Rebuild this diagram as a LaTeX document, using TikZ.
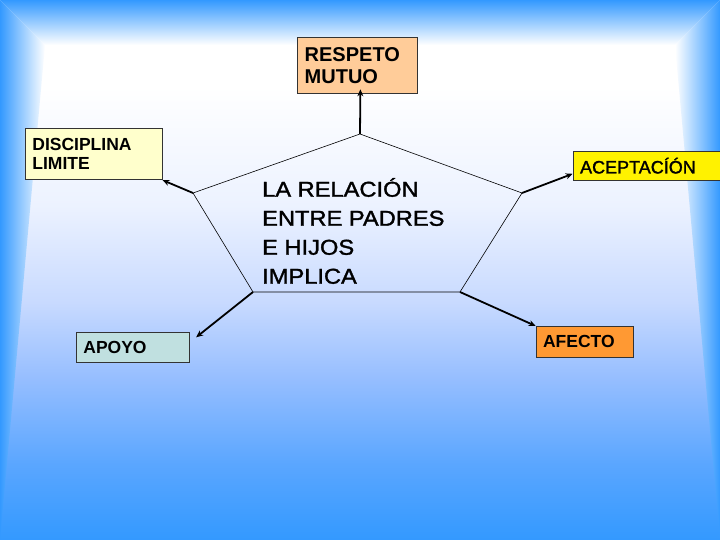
\documentclass[tikz,border=0pt]{standalone}
\usepackage{fontspec}
\setmainfont{Liberation Sans}
\newfontfamily\anchafont[FakeStretch=1.1,FakeBold=1.5]{Liberation Sans}
\newfontfamily\gruesafont[FakeBold=1.5]{Liberation Sans}
\usetikzlibrary{arrows.meta,calc}

\definecolor{azulborde}{RGB}{51,153,255}
\definecolor{azulA}{RGB}{90,166,255}
\definecolor{azulB}{RGB}{150,190,255}
\definecolor{azulC}{RGB}{200,218,255}
\definecolor{azulD}{RGB}{236,242,255}
\definecolor{naranjaclaro}{RGB}{255,204,153}
\definecolor{amarilloclaro}{RGB}{255,255,204}
\definecolor{verdeagua}{RGB}{192,224,224}
\definecolor{naranja}{RGB}{255,153,51}

\pgfdeclareverticalshading{fondo}{100bp}{color(0bp)=(azulborde); color(25bp)=(azulborde); color(32bp)=(azulA); color(40bp)=(azulB); color(47bp)=(azulC); color(56bp)=(azulD); color(67bp)=(white); color(100bp)=(white)}

\begin{document}
\begin{tikzpicture}[x=1pt, y=-1pt, >=Stealth,
    caja/.style={draw=black!80, line width=0.8pt, anchor=north west, align=left,
        inner xsep=7pt, inner ysep=0pt, font=\bfseries\fontsize{17.5}{19}\selectfont},
    flecha/.style={line width=1.8pt, -{Stealth[length=7pt,width=6pt]}}]

    \useasboundingbox (0,0) rectangle (720,540);

    % --- fondo y marco ---
    \shade[shading=fondo] (0,0) rectangle (720,540);
    \shade[top color=azulborde, bottom color=white] (0,0) -- (720,0) -- (675,45) -- (45,45) -- cycle;
    \shade[left color=azulborde, right color=white] (0,0) -- (45,45) -- (0,540) -- cycle;
    \shade[left color=white, right color=azulborde] (720,0) -- (675,45) -- (720,540) -- cycle;

    % --- cajas ---
    \node[caja, fill=naranjaclaro, text width=105.4pt, minimum height=56pt,
        font=\bfseries\fontsize{20}{22}\selectfont] (respeto) at (297.3,37.5) {RESPETO\\MUTUO};
    \node[caja, fill=amarilloclaro, text width=122.7pt, minimum height=51pt] (disciplina) at (25,128.3) {DISCIPLINA\\LIMITE};
    \node[caja, fill=yellow, text width=138pt, minimum height=29.3pt,
        font=\gruesafont\fontsize{18}{20}\selectfont] (aceptacion) at (572.7,150.7) {ACEPTACÍÓN};
    \node[caja, fill=verdeagua, text width=99.3pt, minimum height=30pt] (apoyo) at (76,332.3) {APOYO};
    \node[caja, fill=naranja, text width=83pt, minimum height=30.7pt] (afecto) at (535.7,326) {AFECTO};

    % --- pentagono central ---
    \coordinate (vsup)    at (360,134);
    \coordinate (vizq)    at (193,193);
    \coordinate (vder)    at (522,193);
    \coordinate (vinfizq) at (253,292);
    \coordinate (vinfder) at (460,292);
    \draw[line width=0.6pt] (vsup) -- (vder) -- (vinfder) -- (vinfizq) -- (vizq) -- cycle;

    \node[font=\anchafont\fontsize{21.5}{29}\selectfont, align=left, inner sep=0pt, anchor=west]
        (centro) at (262,231) {LA RELACIÓN\\ENTRE PADRES\\E HIJOS\\IMPLICA};

    % --- flechas ---
    \draw[flecha] (vsup) -- ([xshift=3pt,yshift=5pt]respeto.south);
    \draw[flecha] (vizq) -- (disciplina.south east);
    \draw[flecha] (vder) -- ([yshift=7pt]aceptacion.south west);
    \draw[flecha] (vinfizq) -- ([xshift=6pt,yshift=-5pt]apoyo.north east);
    \draw[flecha] (vinfder) -- (afecto.north west);

\end{tikzpicture}
\end{document}
